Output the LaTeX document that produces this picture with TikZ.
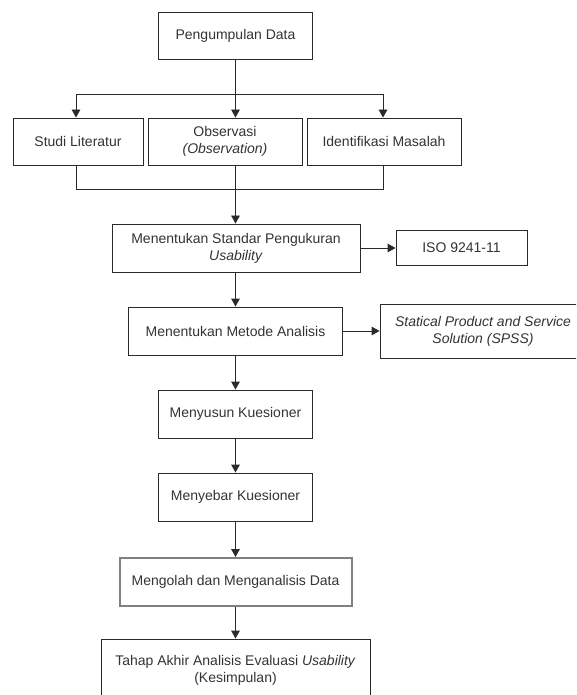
\documentclass[tikz,border=0pt]{standalone}
\usepackage{fontspec}
\setmainfont{Liberation Sans}
\usepackage{xcolor}
\usetikzlibrary{arrows.meta}

\definecolor{linegray}{HTML}{2A2A2A}
\definecolor{textgray}{HTML}{333333}
\definecolor{boxgray}{HTML}{808080}

\begin{document}
\begin{tikzpicture}[x=0.75pt, y=-0.75pt, line width=0.7pt,
        box/.style={draw=linegray, text=textgray, align=center, inner sep=0pt,
            font=\fontsize{10.5}{12.75}\selectfont},
        sz/.style 2 args={minimum width=#1*0.75pt, minimum height=#2*0.75pt},
        line/.style={draw=linegray},
        arr/.style={draw=linegray, -{Triangle[length=6pt, width=6.5pt]}}]
        \useasboundingbox (0,0) rectangle (576,695);
        \clip (0,0) rectangle (576,695);

        \node[box, sz={154}{47}] (kumpul) at (235.5,35.5) {Pengumpulan Data};
        \node[box, sz={130}{47}] (studi) at (78,141.5) {Studi Literatur};
        \node[box, sz={154}{47}] (obs) at (225,141.5) {Observasi\\\textit{(Observation)}};
        \node[box, sz={154}{47}] (ident) at (384,141.5) {Identifikasi Masalah};
        \node[box, sz={248}{48}] (standar) at (236,248) {Menentukan Standar Pengukuran\\\textit{Usability}};
        \node[box, sz={131}{35}] (iso) at (461.5,248) {ISO 9241-11};
        \node[box, sz={214}{48}] (metode) at (235.5,331) {Menentukan Metode Analisis};
        \node[box, sz={206}{54}] (spss) at (483,331) {\textit{Statical Product and Service}\\\textit{Solution (SPSS)}};
        \node[box, sz={154}{48}] (susun) at (235.5,414) {Menyusun Kuesioner};
        \node[box, sz={154}{48}] (sebar) at (235.5,497) {Menyebar Kuesioner};
        \node[box, draw=boxgray, line width=1.5pt, sz={232}{48}] (olah) at (235.5,582) {Mengolah dan Menganalisis Data};
        \node[box, sz={269}{62}] (akhir) at (235.5,670) {Tahap Akhir Analisis Evaluasi \textit{Usability}\\(Kesimpulan)};

        % percabangan
        \coordinate (bagiL) at (76,94);
        \coordinate (bagiM) at (235.5,94);
        \coordinate (bagiR) at (383,94);
        \draw[line] (kumpul.south) -- (bagiM);
        \draw[line] (bagiL) -- (bagiR);
        \draw[arr] (bagiL) -- (bagiL |- studi.north);
        \draw[arr] (bagiM) -- (bagiM |- obs.north);
        \draw[arr] (bagiR) -- (bagiR |- ident.north);

        % penggabungan
        \coordinate (gabungL) at (76,189);
        \coordinate (gabungR) at (383,189);
        \draw[line] (studi.south -| gabungL) -- (gabungL) -- (gabungR) -- (ident.south -| gabungR);
        \draw[arr] (obs.south -| bagiM) -- (bagiM |- standar.north);

        \draw[arr] (standar.east) -- (iso.west);
        \draw[arr] (standar.south -| bagiM) -- (metode.north);
        \draw[arr] (metode.east) -- (spss.west);
        \draw[arr] (metode.south) -- (susun.north);
        \draw[arr] (susun.south) -- (sebar.north);
        \draw[arr] (sebar.south) -- (olah.north);
        \draw[arr] (olah.south) -- (akhir.north);
    \end{tikzpicture}
\end{document}
